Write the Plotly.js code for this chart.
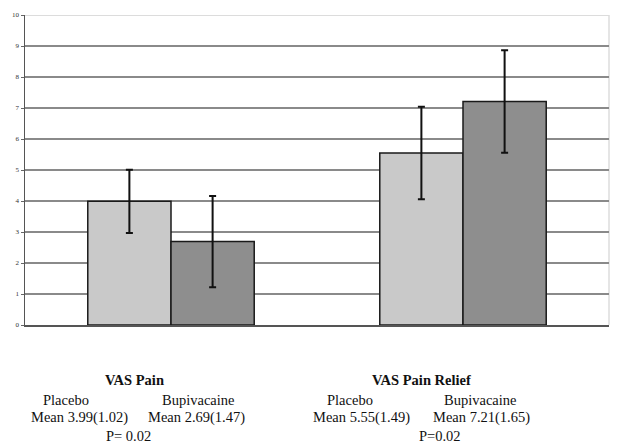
<!DOCTYPE html>
<html><head><meta charset="utf-8">
<script src="https://cdn.plot.ly/plotly-3.0.1.min.js"></script>
<style>html,body{margin:0;padding:0;background:#fff}#chart{width:619px;height:444px}</style>
</head><body><div id="chart"></div>
<script>
const categories = ["VAS Pain", "VAS Pain Relief"];
const groups = ["Placebo", "Bupivacaine"];
const placeboMean = [3.99, 5.55];
const placeboSD = [1.02, 1.49];
const bupiMean = [2.69, 7.21];
const bupiSD = [1.47, 1.65];
const pValues = ["P= 0.02", "P=0.02"];
const yTicks = [0,1,2,3,4,5,6,7,8,9,10];

const xs = [0, 1];
const traces = [
  {type:'bar', x: xs, y: placeboMean, name: groups[0],
   marker:{color:'#c9c9c9', line:{color:'#1a1a1a', width:1.5}},
   error_y:{type:'data', array: placeboSD, visible:true, color:'#111', thickness:2, width:3.5}},
  {type:'bar', x: xs, y: bupiMean, name: groups[1],
   marker:{color:'#8e8e8e', line:{color:'#1a1a1a', width:1.5}},
   error_y:{type:'data', array: bupiSD, visible:true, color:'#111', thickness:2, width:3.5}}
];

const L = 25, T = 15, W = 584, H = 310;
function px(x){ return (x - L)/W; }
function py(y){ return (T + H - y)/H; }
const SERIF = 'Liberation Serif';
const f = {family: SERIF, size:14.5, color:'#111'};
const ann = [];
function add(text, x, y, bold){
  ann.push({text: bold ? '<b>'+text+'</b>' : text, xref:'paper', yref:'paper', x:px(x), y:py(y),
    xanchor:'center', yanchor:'middle', showarrow:false, font: f});
}
const lx = [[134,66,79,198,196,128],[421,350,361,480,481,440]];
for (let i=0;i<2;i++){
  const c = lx[i];
  add(categories[i], c[0], 380, true);
  add(groups[0], c[1], 400);
  add('Mean '+placeboMean[i].toFixed(2)+'('+placeboSD[i].toFixed(2)+')', c[2], 417);
  add(groups[1], c[3], 400);
  add('Mean '+bupiMean[i].toFixed(2)+'('+bupiSD[i].toFixed(2)+')', c[4], 417);
  add(pValues[i], c[5], 436);
}

const layout = {
  width:619, height:444,
  font:{family:SERIF},
  margin:{l:L, r:619-L-W, t:T, b:444-T-H, pad:0},
  paper_bgcolor:'#fff', plot_bgcolor:'#fff',
  barmode:'group', bargap:0.43, bargroupgap:0,
  showlegend:false,
  xaxis:{range:[-0.5,1.5], showticklabels:false, ticks:'', showgrid:false, zeroline:false,
    showline:true, linecolor:'#555', linewidth:1.5, fixedrange:true},
  yaxis:{range:[0,10], tickvals:yTicks, ticktext:yTicks.map(String), ticks:'outside', ticklen:3,
    tickcolor:'#666', tickwidth:1, showline:true, linecolor:'#555', linewidth:1.5,
    gridcolor:'#8a8a8a', gridwidth:1.5, zeroline:false,
    tickfont:{family:SERIF, size:7, color:'#333'}},
  shapes:[
    {type:'line', xref:'paper', yref:'y', x0:0, x1:1, y0:10, y1:10, line:{color:'#dcdcdc', width:2}, layer:'above'},
    {type:'line', xref:'paper', yref:'paper', x0:1, x1:1, y0:0, y1:1, line:{color:'#dcdcdc', width:1.5}, layer:'below'}
  ],
  annotations: ann
};
Plotly.newPlot('chart', traces, layout, {staticPlot:true, displayModeBar:false});
</script></body></html>
